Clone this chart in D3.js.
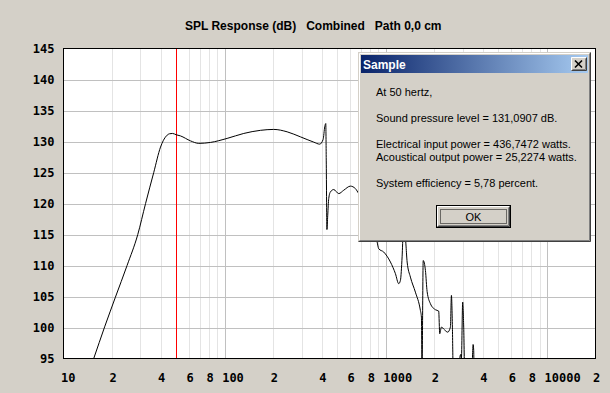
<!DOCTYPE html>
<html>
<head>
<meta charset="utf-8">
<script src="https://cdn.jsdelivr.net/npm/d3@7/dist/d3.min.js"></script>
<style>
  body { margin: 0; background: #d4d0c8; }
  svg { display: block; }
</style>
</head>
<body>
<svg id="chart" width="610" height="393"></svg>
<script>
// SPL response chart with "Sample" info dialog

const freqHz = [
    13.1, 15.4, 18.0, 21.0, 24.8, 28.9, 32.3, 36.3, 40.0, 41.7, 43.5, 45.5, 47.5,
    50, 53.2, 61.4, 69.1, 81.7, 103.6, 131.4, 166.7, 201.6, 244.2, 295.3, 357, 389, 408.3, 417.8, 424,
    426.9, 431.1, 436.1, 442.4, 453.2, 475.1, 510.4, 548, 603.1, 647.7, 679.1, 747, 826,
    883.1, 903.7, 970.5, 1068, 1147, 1202, 1232, 1262, 1281, 1314, 1356, 1421, 1526, 1639, 1663,
    1677, 1706, 1761, 1804, 1891, 2031, 2129, 2160, 2213, 2309, 2421, 2516, 2553, 2589, 2615,
    2780, 2915, 2944, 2999, 3043, 3087, 3253, 3420, 3480, 3510, 3530, 3863, 6840, 20000
];
const splDb = [
    89.8, 95.0, 100.1, 104.9, 110.0, 115.0, 120.0, 125.0, 129.1, 130.2, 130.9, 131.25, 131.3,
    131.09, 130.9, 130.1, 129.7, 129.85, 130.5, 131.3, 131.8, 131.95, 131.56, 130.75, 129.9, 129.57, 130.33, 132.37, 132.9,
    127.0, 115.8, 118.1, 120.8, 121.87, 122.25, 121.6, 122.14, 122.8, 122.4, 121.6, 120.5, 117.3,
    113.8, 112.7, 112.17, 110.56, 108.68, 107.07, 107.6, 111.4, 114.9, 114.9, 110.56, 108.13, 105.7, 102.75, 101.67,
    93.1, 110.8, 109.2, 105.8, 103.84, 102.87, 102.64, 99.0, 100.06, 99.64, 99.25, 100.06, 105.18, 100.06, 93.9,
    92.7, 95.65, 95.0, 104.1, 100.06, 93.0, 92.2, 93.0, 97.26, 96.3, 93.0, 90.6, 88.0, 87.0
];

const xTicks = [10, 20, 40, 60, 80, 100, 200, 400, 600, 800, 1000, 2000, 4000, 6000, 8000, 10000, 20000];
const xTickLabels = ['10', '2', '4', '6', '8', '100', '2', '4', '6', '8', '1000', '2', '4', '6', '8', '10000', '2'];
const yTicks = [95, 100, 105, 110, 115, 120, 125, 130, 135, 140, 145];
const markerHz = 50;

const titleText = 'SPL Response (dB)   Combined   Path 0,0 cm';
const dialogTitle = 'Sample';
const dialogLines = [
    { text: 'At 50 hertz,', y: 95.5 },
    { text: 'Sound pressure level = 131,0907 dB.', y: 121.5 },
    { text: 'Electrical input power = 436,7472 watts.', y: 147.5 },
    { text: 'Acoustical output power = 25,2274 watts.', y: 160.5 },
    { text: 'System efficiency = 5,78 percent.', y: 186.5 }
];

const PLOT = { left: 63.5, right: 595.5, top: 48.5, bottom: 358.5 };
const TICK_FONT = '"DejaVu Sans Mono", monospace';
const UI_FONT = '"Liberation Sans", Arial, sans-serif';

const svg = d3.select('#chart');

const x = d3.scaleLog().domain([10, 20000]).range([PLOT.left, PLOT.right]);
const y = d3.scaleLinear().domain([95, 145]).range([PLOT.bottom, PLOT.top]);

// title
svg.append('text')
    .attr('x', 185)
    .attr('y', 30)
    .attr('font-family', UI_FONT)
    .attr('font-size', '12px')
    .attr('font-weight', 'bold')
    .style('white-space', 'pre')
    .text(titleText);

// plot background
svg.append('rect')
    .attr('x', PLOT.left).attr('y', PLOT.top)
    .attr('width', PLOT.right - PLOT.left)
    .attr('height', PLOT.bottom - PLOT.top)
    .attr('fill', '#fff');

// vertical grid: every 1..9 x decade
const vGrid = [];
for (let dec = 10; dec <= 10000; dec *= 10) {
    for (let m = 1; m <= 9; m++) {
        const f = dec * m;
        if (f > 10 && f < 20000) vGrid.push({ f, major: m === 1 });
    }
}
svg.append('g').selectAll('line')
    .data(vGrid)
    .join('line')
    .attr('x1', d => Math.round(x(d.f)) + 0.5)
    .attr('x2', d => Math.round(x(d.f)) + 0.5)
    .attr('y1', PLOT.top)
    .attr('y2', PLOT.bottom)
    .attr('stroke', d => d.major ? '#c0c0c0' : '#e4e4e4')
    .attr('stroke-width', 1);

// horizontal grid
svg.append('g').selectAll('line')
    .data(yTicks.slice(1, -1))
    .join('line')
    .attr('x1', PLOT.left)
    .attr('x2', PLOT.right)
    .attr('y1', d => Math.round(y(d)) + 0.5)
    .attr('y2', d => Math.round(y(d)) + 0.5)
    .attr('stroke', '#c0c0c0')
    .attr('stroke-width', 1);

// marker line
svg.append('line')
    .attr('x1', Math.round(x(markerHz)) + 0.5)
    .attr('x2', Math.round(x(markerHz)) + 0.5)
    .attr('y1', PLOT.top)
    .attr('y2', PLOT.bottom)
    .attr('stroke', '#ff0000')
    .attr('stroke-width', 1);

// response curve
svg.append('clipPath').attr('id', 'plot-clip')
    .append('rect')
    .attr('x', PLOT.left).attr('y', PLOT.top)
    .attr('width', PLOT.right - PLOT.left)
    .attr('height', PLOT.bottom - PLOT.top);

const line = d3.line()
    .x((d, i) => x(freqHz[i]))
    .y(d => y(d))
    .curve(d3.curveMonotoneX);

svg.append('path')
    .datum(splDb)
    .attr('clip-path', 'url(#plot-clip)')
    .attr('fill', 'none')
    .attr('stroke', '#000')
    .attr('stroke-width', 1)
    .attr('d', line);

// plot frame
svg.append('rect')
    .attr('x', PLOT.left).attr('y', PLOT.top)
    .attr('width', PLOT.right - PLOT.left)
    .attr('height', PLOT.bottom - PLOT.top)
    .attr('fill', 'none')
    .attr('stroke', '#000')
    .attr('stroke-width', 1);

// axes
svg.append('g')
    .attr('transform', `translate(0, ${PLOT.bottom})`)
    .call(d3.axisBottom(x)
        .tickValues(xTicks)
        .tickFormat((d, i) => xTickLabels[i])
        .tickSize(0)
        .tickPadding(15))
    .call(g => g.select('.domain').remove())
    .call(g => g.selectAll('text')
        .attr('text-anchor', 'start')
        .attr('dx', -3)
        .attr('font-family', TICK_FONT)
        .attr('font-size', '12px')
        .attr('font-weight', 'bold')
        .attr('fill', '#000'));

svg.append('g')
    .attr('transform', `translate(${PLOT.left}, 0)`)
    .call(d3.axisLeft(y)
        .tickValues(yTicks)
        .tickFormat(d3.format('d'))
        .tickSize(0)
        .tickPadding(9))
    .call(g => g.select('.domain').remove())
    .call(g => g.selectAll('text')
        .attr('font-family', TICK_FONT)
        .attr('font-size', '12px')
        .attr('font-weight', 'bold')
        .attr('fill', '#000'));

// ---- dialog ----
function bevel(g, bx, by, bw, bh, tlOuter, tlInner, brOuter, brInner) {
    const x0 = bx + 0.5, y0 = by + 0.5, x1 = bx + bw - 0.5, y1 = by + bh - 0.5;
    const seg = (a, b, c, d, col) => g.append('line')
        .attr('x1', a).attr('y1', b).attr('x2', c).attr('y2', d)
        .attr('stroke', col).attr('stroke-width', 1);
    seg(x0, y0, x1, y0, tlOuter);
    seg(x0, y0, x0, y1, tlOuter);
    seg(x0 + 1, y0 + 1, x1 - 1, y0 + 1, tlInner);
    seg(x0 + 1, y0 + 1, x0 + 1, y1 - 1, tlInner);
    seg(x0, y1, x1, y1, brOuter);
    seg(x1, y0, x1, y1, brOuter);
    seg(x0 + 1, y1 - 1, x1 - 1, y1 - 1, brInner);
    seg(x1 - 1, y0 + 1, x1 - 1, y1 - 1, brInner);
}

const dlg = svg.append('g');
dlg.append('rect')
    .attr('x', 358).attr('y', 52).attr('width', 233).attr('height', 190)
    .attr('fill', '#d4d0c8');
bevel(dlg, 358, 52, 233, 190, '#d4d0c8', '#ffffff', '#404040', '#808080');

const grad = svg.append('defs').append('linearGradient').attr('id', 'title-grad');
grad.append('stop').attr('offset', '0%').attr('stop-color', '#0a246a');
grad.append('stop').attr('offset', '100%').attr('stop-color', '#a6caf0');

dlg.append('rect')
    .attr('x', 361).attr('y', 55).attr('width', 227).attr('height', 18)
    .attr('fill', 'url(#title-grad)');
dlg.append('text')
    .attr('x', 363).attr('y', 68.5)
    .attr('font-family', UI_FONT)
    .attr('font-size', '12px')
    .attr('font-weight', 'bold')
    .attr('fill', '#fff')
    .text(dialogTitle);

// close button
dlg.append('rect')
    .attr('x', 571).attr('y', 57).attr('width', 16).attr('height', 14)
    .attr('fill', '#d4d0c8');
bevel(dlg, 571, 57, 16, 14, '#ffffff', '#d4d0c8', '#404040', '#808080');
dlg.append('path')
    .attr('d', 'M575,60.5 L582,67.5 M582,60.5 L575,67.5')
    .attr('stroke', '#000')
    .attr('stroke-width', 1.6)
    .attr('fill', 'none');

dlg.selectAll('text.msg')
    .data(dialogLines)
    .join('text')
    .attr('class', 'msg')
    .attr('x', 376)
    .attr('y', d => d.y)
    .attr('font-family', UI_FONT)
    .attr('font-size', '11px')
    .attr('fill', '#000')
    .text(d => d.text);

// OK button
dlg.append('rect')
    .attr('x', 436.5).attr('y', 205.5).attr('width', 74).attr('height', 22)
    .attr('fill', '#d4d0c8')
    .attr('stroke', '#000');
bevel(dlg, 437, 206, 73, 21, '#ffffff', '#d4d0c8', '#404040', '#808080');
dlg.append('rect')
    .attr('x', 440.5).attr('y', 209.5).attr('width', 66).attr('height', 14)
    .attr('fill', 'none')
    .attr('stroke', '#000')
    .attr('stroke-dasharray', '1,1');
dlg.append('text')
    .attr('x', 473.5).attr('y', 220.5)
    .attr('text-anchor', 'middle')
    .attr('font-family', UI_FONT)
    .attr('font-size', '11px')
    .attr('fill', '#000')
    .text('OK');
</script>
</body>
</html>
